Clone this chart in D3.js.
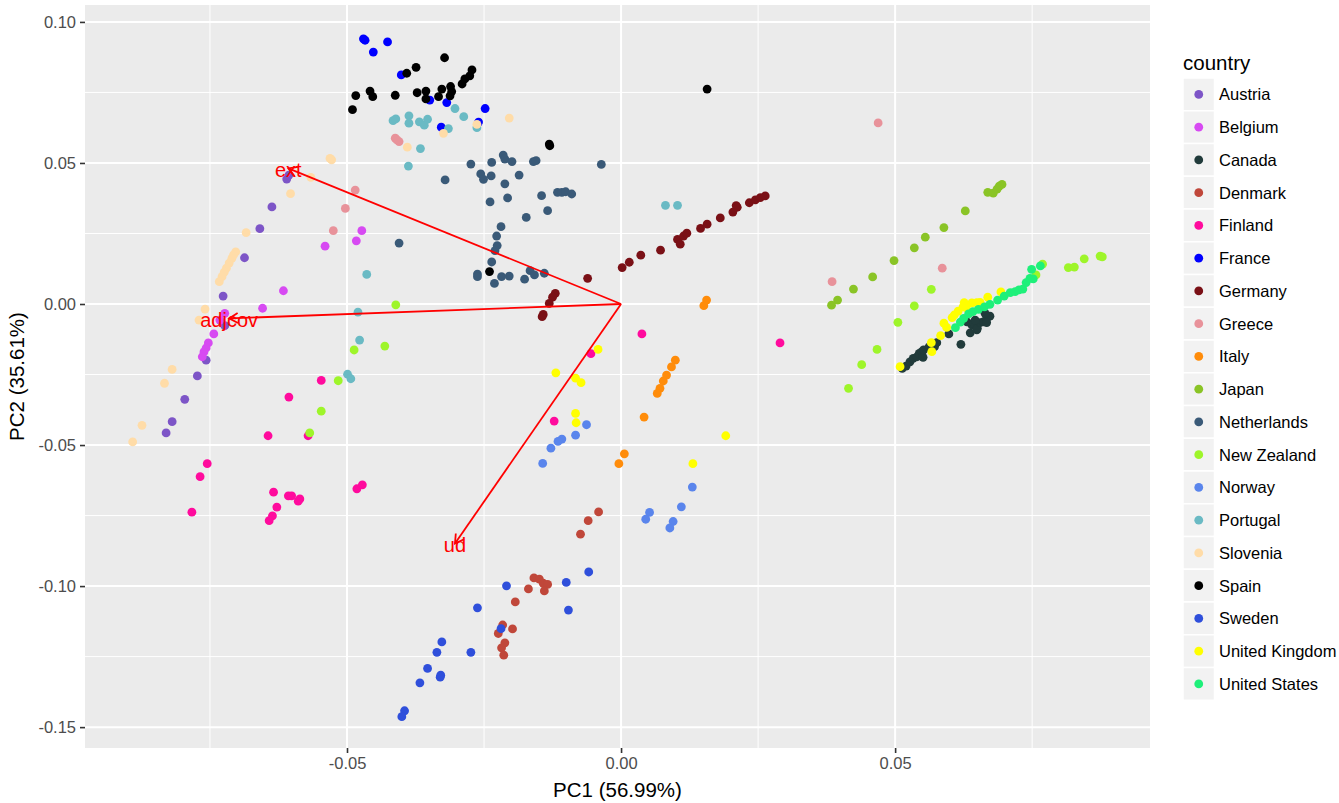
<!DOCTYPE html>
<html><head><meta charset="utf-8">
<script src="https://cdn.jsdelivr.net/npm/d3@7/dist/d3.min.js"></script>
<style>
body{margin:0;background:#fff;}
text{font-family:"Liberation Sans",Arial,Helvetica,sans-serif;}
</style>
</head><body>
<svg id="chart" width="1339" height="803"></svg>
<script>
// ---- data ----
const countries = ["Austria","Belgium","Canada","Denmark","Finland","France","Germany","Greece","Italy","Japan","Netherlands","New Zealand","Norway","Portugal","Slovenia","Spain","Sweden","United Kingdom","United States"];
const countryColors = ["#7D55C7","#D74AF2","#213B3B","#C0473A","#FF0B9D","#0000FF","#7A1016","#E8929A","#FF8C0A","#8AC426","#3A5A78","#9EF52A","#5A85EC","#6ABAC4","#FFDCA8","#000000","#2F4FDB","#FFFF00","#1EF07A"];

const austria = [[-0.0610,0.0443],[-0.0606,0.0457],[-0.0637,0.0344],[-0.0659,0.0267],[-0.0687,0.0164],[-0.0726,0.0028],[-0.0723,-0.0077],[-0.0757,-0.0199],[-0.0773,-0.0255],[-0.0796,-0.0338],[-0.0819,-0.0417],[-0.0830,-0.0457]];
const belgium = [[-0.0473,0.0260],[-0.0483,0.0224],[-0.0540,0.0205],[-0.0616,0.0047],[-0.0654,-0.0015],[-0.0723,-0.0033],[-0.0732,-0.0057],[-0.0743,-0.0106],[-0.0753,-0.0138],[-0.0757,-0.0156],[-0.0761,-0.0170],[-0.0764,-0.0187]];
const canada = [[0.0513,-0.0228],[0.0520,-0.0220],[0.0527,-0.0205],[0.0533,-0.0193],[0.0540,-0.0187],[0.0544,-0.0175],[0.0549,-0.0169],[0.0551,-0.0189],[0.0552,-0.0163],[0.0562,-0.0152],[0.0572,-0.0151],[0.0576,-0.0137],[0.0598,-0.0106],[0.0620,-0.0143],[0.0631,-0.0063],[0.0637,-0.0102],[0.0640,-0.0074],[0.0649,-0.0092],[0.0643,-0.0068],[0.0650,-0.0086],[0.0655,-0.0066],[0.0661,-0.0063],[0.0667,-0.0051],[0.0673,-0.0043],[0.0664,-0.0033],[0.0646,-0.0057],[0.0667,-0.0066]];
const denmark = [[-0.0041,-0.0737],[-0.0060,-0.0768],[-0.0074,-0.0816],[-0.0159,-0.0971],[-0.0149,-0.0975],[-0.0142,-0.0990],[-0.0134,-0.0994],[-0.0140,-0.1017],[-0.0169,-0.1010],[-0.0193,-0.1056],[-0.0216,-0.1138],[-0.0224,-0.1168],[-0.0198,-0.1152],[-0.0212,-0.1201],[-0.0218,-0.1219],[-0.0214,-0.1245]];
const finland = [[0.0038,-0.0106],[-0.0055,-0.0176],[-0.0122,-0.0415],[0.0290,-0.0138],[-0.0547,-0.0271],[-0.0606,-0.0330],[-0.0644,-0.0467],[-0.0571,-0.0467],[-0.0755,-0.0566],[-0.0768,-0.0612],[-0.0783,-0.0738],[-0.0634,-0.0667],[-0.0607,-0.0680],[-0.0601,-0.0680],[-0.0586,-0.0691],[-0.0589,-0.0699],[-0.0628,-0.0720],[-0.0636,-0.0751],[-0.0642,-0.0768],[-0.0482,-0.0655],[-0.0472,-0.0641]];
const france = [[-0.0470,0.0940],[-0.0467,0.0935],[-0.0426,0.0929],[-0.0452,0.0893],[-0.0401,0.0812],[-0.0349,0.0723],[-0.0318,0.0714],[-0.0248,0.0693],[-0.0260,0.0645],[-0.0328,0.0627]];
const germany = [[-0.0061,0.0091],[0.0002,0.0129],[0.0015,0.0148],[0.0036,0.0173],[0.0072,0.0191],[0.0103,0.0229],[0.0108,0.0212],[0.0114,0.0241],[0.0120,0.0251],[0.0145,0.0268],[0.0157,0.0283],[0.0181,0.0305],[0.0204,0.0326],[0.0210,0.0349],[0.0212,0.0343],[0.0234,0.0359],[0.0245,0.0369],[0.0254,0.0377],[0.0263,0.0383],[-0.0120,0.0038],[-0.0125,0.0024],[-0.0131,0.0002],[-0.0142,-0.0037],[-0.0144,-0.0045]];
const greece = [[-0.0485,0.0404],[-0.0503,0.0339],[-0.0525,0.0260],[-0.0412,0.0588],[-0.0405,0.0576],[-0.0409,0.0582],[0.0469,0.0642],[0.0385,0.0079],[0.0586,0.0127]];
const italy = [[0.0156,0.0014],[0.0151,-0.0006],[0.0099,-0.0199],[0.0092,-0.0223],[0.0083,-0.0252],[0.0077,-0.0273],[0.0071,-0.0299],[0.0066,-0.0317],[0.0042,-0.0401],[0.0006,-0.0531],[-0.0004,-0.0566]];
const japan = [[0.0690,0.0418],[0.0695,0.0424],[0.0686,0.0407],[0.0679,0.0393],[0.0669,0.0396],[0.0628,0.0330],[0.0589,0.0271],[0.0555,0.0237],[0.0535,0.0199],[0.0498,0.0154],[0.0459,0.0096],[0.0424,0.0053],[0.0395,0.0014],[0.0384,-0.0004]];
const netherlands = [[-0.0274,0.0496],[-0.0236,0.0502],[-0.0215,0.0528],[-0.0212,0.0514],[-0.0199,0.0505],[-0.0160,0.0505],[-0.0155,0.0508],[-0.0036,0.0495],[-0.0321,0.0440],[-0.0256,0.0461],[-0.0251,0.0442],[-0.0237,0.0454],[-0.0186,0.0457],[-0.0212,0.0426],[-0.0239,0.0362],[-0.0207,0.0376],[-0.0145,0.0384],[-0.0116,0.0396],[-0.0108,0.0396],[-0.0101,0.0398],[-0.0090,0.0390],[-0.0134,0.0331],[-0.0173,0.0307],[-0.0219,0.0274],[-0.0227,0.0241],[-0.0226,0.0207],[-0.0230,0.0189],[-0.0236,0.0149],[-0.0262,0.0106],[-0.0262,0.0097],[-0.0231,0.0073],[-0.0218,0.0097],[-0.0204,0.0099],[-0.0176,0.0088],[-0.0166,0.0118],[-0.0158,0.0103],[-0.0140,0.0109],[-0.0405,0.0216]];
const newZealand = [[-0.0487,-0.0163],[-0.0431,-0.0149],[-0.0516,-0.0272],[-0.0547,-0.0380],[-0.0568,-0.0457],[-0.0411,-0.0003],[0.0566,0.0052],[0.0535,-0.0007],[0.0505,-0.0065],[0.0467,-0.0161],[0.0439,-0.0215],[0.0415,-0.0299],[0.0769,0.0141],[0.0757,0.0103],[0.0816,0.0129],[0.0827,0.0131],[0.0845,0.0160],[0.0874,0.0170],[0.0878,0.0167]];
const norway = [[-0.0063,-0.0428],[-0.0083,-0.0465],[-0.0108,-0.0479],[-0.0115,-0.0487],[-0.0128,-0.0511],[-0.0143,-0.0565],[0.0130,-0.0649],[0.0110,-0.0719],[0.0095,-0.0771],[0.0089,-0.0794],[0.0052,-0.0739],[0.0045,-0.0763]];
const portugal = [[-0.0303,0.0693],[-0.0287,0.0664],[-0.0416,0.0650],[-0.0411,0.0656],[-0.0387,0.0667],[-0.0387,0.0641],[-0.0368,0.0646],[-0.0359,0.0634],[-0.0353,0.0655],[-0.0315,0.0622],[-0.0263,0.0625],[-0.0366,0.0551],[-0.0388,0.0489],[0.0081,0.0350],[0.0103,0.0350],[-0.0464,0.0105],[-0.0480,-0.0029],[-0.0477,-0.0128],[-0.0499,-0.0249],[-0.0493,-0.0265]];
const slovenia = [[-0.0528,0.0511],[-0.0531,0.0516],[-0.0566,0.0449],[-0.0603,0.0391],[-0.0684,0.0253],[-0.0703,0.0185],[-0.0707,0.0174],[-0.0710,0.0162],[-0.0715,0.0145],[-0.0720,0.0127],[-0.0724,0.0113],[-0.0728,0.0097],[-0.0733,0.0079],[-0.0759,-0.0018],[-0.0770,-0.0057],[-0.0819,-0.0232],[-0.0833,-0.0281],[-0.0874,-0.0430],[-0.0891,-0.0489],[-0.0263,0.0637],[-0.0204,0.0659],[-0.0324,0.0605],[-0.0390,0.0556]];
const spain = [[-0.0322,0.0873],[-0.0391,0.0818],[-0.0374,0.0839],[-0.0272,0.0830],[-0.0276,0.0809],[-0.0285,0.0798],[-0.0290,0.0780],[-0.0458,0.0755],[-0.0453,0.0735],[-0.0484,0.0739],[-0.0490,0.0689],[-0.0412,0.0740],[-0.0372,0.0749],[-0.0356,0.0755],[-0.0356,0.0727],[-0.0333,0.0735],[-0.0327,0.0762],[-0.0311,0.0771],[-0.0309,0.0753],[-0.0312,0.0738],[-0.0130,0.0561],[-0.0131,0.0567],[0.0157,0.0762],[-0.0240,0.0115]];
const sweden = [[-0.0059,-0.0950],[-0.0100,-0.0987],[-0.0096,-0.1085],[-0.0209,-0.0999],[-0.0262,-0.1077],[-0.0219,-0.1151],[-0.0327,-0.1198],[-0.0336,-0.1235],[-0.0274,-0.1235],[-0.0353,-0.1292],[-0.0329,-0.1316],[-0.0330,-0.1323],[-0.0367,-0.1343],[-0.0395,-0.1442],[-0.0400,-0.1463]];
const unitedKingdom = [[-0.0042,-0.0161],[-0.0119,-0.0244],[-0.0083,-0.0263],[-0.0073,-0.0279],[-0.0083,-0.0388],[-0.0082,-0.0421],[0.0191,-0.0467],[0.0131,-0.0566],[0.0509,-0.0222],[0.0567,-0.0169],[0.0566,-0.0137],[0.0583,-0.0112],[0.0589,-0.0068],[0.0594,-0.0083],[0.0604,-0.0048],[0.0608,-0.0039],[0.0624,-0.0010],[0.0626,0.0005],[0.0640,0.0004],[0.0649,0.0005],[0.0655,0.0006],[0.0669,0.0024],[0.0693,0.0043],[0.0630,-0.0014],[0.0615,-0.0025]];
const unitedStates = [[0.0610,-0.0084],[0.0619,-0.0064],[0.0625,-0.0051],[0.0634,-0.0035],[0.0642,-0.0027],[0.0652,-0.0019],[0.0663,-0.0010],[0.0673,-0.0001],[0.0687,0.0014],[0.0699,0.0028],[0.0710,0.0040],[0.0719,0.0044],[0.0726,0.0050],[0.0733,0.0053],[0.0739,0.0076],[0.0746,0.0091],[0.0752,0.0089],[0.0749,0.0123],[0.0765,0.0135]];

const seriesByCountry = [austria,belgium,canada,denmark,finland,france,germany,greece,italy,japan,netherlands,newZealand,norway,portugal,slovenia,spain,sweden,unitedKingdom,unitedStates];

const varNames = ["ext","adjcov","ud"];
const varPC1 = [-0.0607,-0.0715,-0.0303];
const varPC2 = [0.0481,-0.0051,-0.0849];

const xTicks = [-0.05,0.00,0.05];
const yTicks = [-0.15,-0.10,-0.05,0.00,0.05,0.10];
const xMinor = [-0.075,-0.025,0.025,0.075];
const yMinor = [-0.125,-0.075,-0.025,0.025,0.075];

// ---- layout ----
const svg = d3.select("#chart");
const L=85,R=1150,T=5,B=748;
const x = d3.scaleLinear().domain([-0.0978,0.0965]).range([L,R]);
const y = d3.scaleLinear().domain([-0.1574,0.1060]).range([B,T]);
const color = d3.scaleOrdinal().domain(countries).range(countryColors);

svg.append("rect").attr("x",L).attr("y",T).attr("width",R-L).attr("height",B-T).attr("fill","#EBEBEB");
const grid = svg.append("g");
grid.selectAll(".xm").data(xMinor).enter().append("line").attr("x1",d=>x(d)).attr("x2",d=>x(d)).attr("y1",T).attr("y2",B).attr("stroke","#fff").attr("stroke-width",1);
grid.selectAll(".ym").data(yMinor).enter().append("line").attr("y1",d=>y(d)).attr("y2",d=>y(d)).attr("x1",L).attr("x2",R).attr("stroke","#fff").attr("stroke-width",1);
grid.selectAll(".xM").data(xTicks).enter().append("line").attr("x1",d=>x(d)).attr("x2",d=>x(d)).attr("y1",T).attr("y2",B).attr("stroke","#fff").attr("stroke-width",2);
grid.selectAll(".yM").data(yTicks).enter().append("line").attr("y1",d=>y(d)).attr("y2",d=>y(d)).attr("x1",L).attr("x2",R).attr("stroke","#fff").attr("stroke-width",2);

// points
const pts = [];
countries.forEach((c,i)=>seriesByCountry[i].forEach(p=>pts.push({country:c,pc1:p[0],pc2:p[1]})));
svg.append("g").selectAll("circle").data(pts).enter().append("circle")
  .attr("cx",d=>x(d.pc1)).attr("cy",d=>y(d.pc2)).attr("r",4.4).attr("fill",d=>color(d.country));

// arrows
const vars = varNames.map((n,i)=>({name:n,pc1:varPC1[i],pc2:varPC2[i]}));
const ag = svg.append("g").attr("stroke","#FF0000").attr("stroke-width",1.8).attr("fill","none");
vars.forEach(v=>{
  const x0=x(0),y0=y(0),x1=x(v.pc1),y1=y(v.pc2);
  ag.append("line").attr("x1",x0).attr("y1",y0).attr("x2",x1).attr("y2",y1);
  const ang=Math.atan2(y1-y0,x1-x0), len=10, a=Math.PI/6;
  ag.append("path").attr("d",`M${x1-len*Math.cos(ang-a)},${y1-len*Math.sin(ang-a)}L${x1},${y1}L${x1-len*Math.cos(ang+a)},${y1-len*Math.sin(ang+a)}`);
});
svg.append("g").selectAll("text").data(vars).enter().append("text")
  .attr("x",d=>x(d.pc1)).attr("y",d=>y(d.pc2)+2).attr("text-anchor","middle").attr("dominant-baseline","central")
  .attr("fill","#FF0000").attr("font-size",20).text(d=>d.name);

// axes
const xAxis = svg.append("g").attr("transform",`translate(0,${B})`)
  .call(d3.axisBottom(x).tickValues(xTicks).tickFormat(d=>d.toFixed(2)).tickSize(5).tickPadding(4));
const yAxis = svg.append("g").attr("transform",`translate(${L},0)`)
  .call(d3.axisLeft(y).tickValues(yTicks).tickFormat(d=>d.toFixed(2)).tickSize(5).tickPadding(4));
[xAxis,yAxis].forEach(a=>{
  a.select(".domain").remove();
  a.selectAll(".tick line").attr("stroke","#333333").attr("stroke-width",1.6);
  a.selectAll(".tick text").attr("fill","#4D4D4D").attr("font-size",16.5).attr("font-family","Liberation Sans, Arial, sans-serif");
});
svg.append("text").attr("x",(L+R)/2).attr("y",797).attr("text-anchor","middle").attr("font-size",20.5).attr("fill","#000").text("PC1 (56.99%)");
svg.append("text").attr("transform",`translate(24,${(T+B)/2}) rotate(-90)`).attr("text-anchor","middle").attr("font-size",20.5).attr("fill","#000").text("PC2 (35.61%)");

// legend
const lg = svg.append("g");
lg.append("text").attr("x",1183).attr("y",70).attr("font-size",20.5).attr("fill","#000").text("country");
const keyH=32.75, keyTop=78;
const items = lg.selectAll(".item").data(countries).enter().append("g").attr("transform",(d,i)=>`translate(1183,${keyTop+i*keyH})`);
items.append("rect").attr("width",31.5).attr("height",keyH).attr("fill","#F2F2F2").attr("stroke","#fff").attr("stroke-width",1.5);
items.append("circle").attr("cx",15.75).attr("cy",keyH/2).attr("r",4.4).attr("fill",d=>color(d));
items.append("text").attr("x",36).attr("y",keyH/2).attr("dominant-baseline","central").attr("font-size",16.5).attr("fill","#000").text(d=>d);
</script>
</body></html>
